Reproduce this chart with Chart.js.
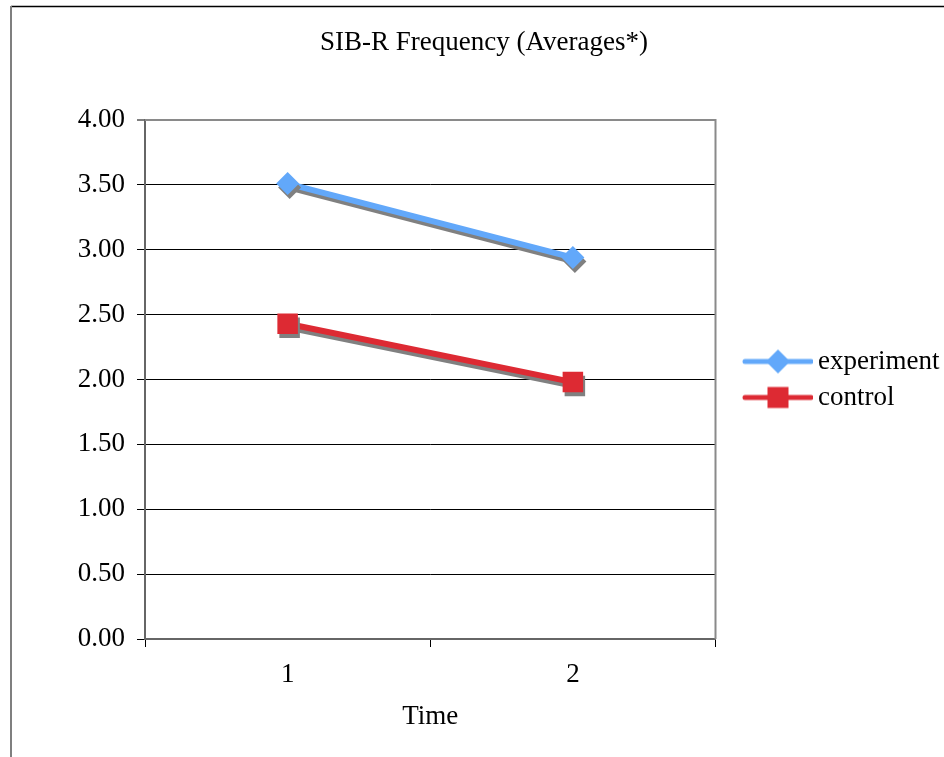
<!DOCTYPE html>
<html>
<head>
<meta charset="utf-8">
<title>SIB-R Frequency</title>
<script src="https://cdn.jsdelivr.net/npm/chart.js@4/dist/chart.umd.min.js"></script>
<style>
  html, body { margin: 0; padding: 0; background: #fff; }
  canvas { display: block; }
</style>
</head>
<body>
<canvas id="sibChart" width="944" height="757"></canvas>
<script>
// averages per time point
var timeLabels = ["1", "2"];
var experimentValues = [3.51, 2.94];
var controlValues = [2.43, 1.98];

var expColor = "#62a8fa";
var ctlColor = "#dd2a33";
var shadowColor = "#808080";

Chart.defaults.font.family = '"Liberation Serif", "Times New Roman", serif';
Chart.defaults.font.size = 27;
Chart.defaults.color = "#000";

// legend icon: a short line with the marker on it
function legendIcon(color, shape) {
    var c = document.createElement("canvas");
    c.width = 97;
    c.height = 28;
    var g = c.getContext("2d");
    var cy = 14, cx = 62;
    g.strokeStyle = color;
    g.lineWidth = 5;
    g.lineCap = "round";
    g.beginPath();
    g.moveTo(29, cy);
    g.lineTo(95, cy);
    g.stroke();
    g.fillStyle = color;
    if (shape == "diamond") {
        g.beginPath();
        g.moveTo(cx, cy - 12);
        g.lineTo(cx + 12, cy);
        g.lineTo(cx, cy + 12);
        g.lineTo(cx - 12, cy);
        g.closePath();
        g.fill();
    } else {
        g.fillRect(cx - 10.5, cy - 10.5, 21, 21);
    }
    return c;
}
var icons = [legendIcon(expColor, "diamond"), legendIcon(ctlColor, "square")];

// outer frame of the chart
var framePlugin = {
    id: "frame",
    beforeDraw: function (chart) {
        var ctx = chart.ctx;
        ctx.save();
        ctx.fillStyle = "#fff";
        ctx.fillRect(0, 0, chart.width, chart.height);
        ctx.strokeStyle = "#000";
        ctx.lineWidth = 1.5;
        ctx.beginPath();
        ctx.moveTo(11, 6.5);
        ctx.lineTo(chart.width, 6.5);
        ctx.stroke();
        ctx.strokeStyle = "#7f7f7f";
        ctx.lineWidth = 2;
        ctx.beginPath();
        ctx.moveTo(11, 6);
        ctx.lineTo(11, chart.height);
        ctx.stroke();
        ctx.restore();
    },
    beforeDatasetsDraw: function (chart) {
        // top and right edge of the plot area
        var a = chart.chartArea;
        var ctx = chart.ctx;
        ctx.save();
        ctx.strokeStyle = "#8a8a8a";
        ctx.lineWidth = 2;
        ctx.beginPath();
        ctx.moveTo(a.left, a.top);
        ctx.lineTo(a.right, a.top);
        ctx.lineTo(a.right, a.bottom);
        ctx.stroke();
        ctx.restore();
    }
};

// drop shadow under the lines and markers
var shadowPlugin = {
    id: "lineShadow",
    beforeDatasetDraw: function (chart) {
        var ctx = chart.ctx;
        ctx.save();
        ctx.shadowColor = shadowColor;
        ctx.shadowBlur = 0;
        ctx.shadowOffsetX = 2;
        ctx.shadowOffsetY = 4;
    },
    afterDatasetDraw: function (chart) {
        chart.ctx.restore();
    }
};

var myChart = new Chart(document.getElementById("sibChart"), {
    type: "line",
    data: {
        labels: timeLabels,
        datasets: [
            {
                label: "experiment",
                data: experimentValues,
                borderColor: expColor,
                backgroundColor: expColor,
                borderWidth: 6,
                pointStyle: "rectRot",
                pointRadius: 11.5,
                pointBorderWidth: 0,
                pointBackgroundColor: expColor
            },
            {
                label: "control",
                data: controlValues,
                borderColor: ctlColor,
                backgroundColor: ctlColor,
                borderWidth: 6,
                pointStyle: "rect",
                pointRadius: 14.5,
                pointBorderWidth: 0,
                pointBackgroundColor: ctlColor
            }
        ]
    },
    options: {
        responsive: false,
        animation: false,
        layout: { padding: { left: 21, right: -3, top: 0, bottom: 0 } },
        plugins: {
            title: {
                display: true,
                text: "SIB-R Frequency (Averages*)",
                font: { size: 27, weight: "normal" },
                color: "#000",
                padding: { top: 27, bottom: 60.6 }
            },
            legend: {
                display: true,
                position: "right",
                fullSize: false,
                labels: {
                    usePointStyle: true,
                    pointStyleWidth: 80,
                    padding: 9,
                    color: "#000",
                    font: { size: 27 },
                    generateLabels: function (chart) {
                        var items = Chart.defaults.plugins.legend.labels.generateLabels(chart);
                        items.forEach(function (it, i) { it.pointStyle = icons[i]; });
                        return items;
                    }
                }
            },
            tooltip: { enabled: false }
        },
        scales: {
            x: {
                type: "category",
                offset: true,
                grid: {
                    offset: true,
                    drawOnChartArea: false,
                    drawTicks: true,
                    tickLength: 8,
                    tickColor: "#000",
                    tickWidth: 1
                },
                border: { color: "#666", width: 2 },
                ticks: { padding: 12, color: "#000" },
                title: {
                    display: true,
                    text: "Time",
                    color: "#000",
                    padding: { top: 4, bottom: 24 }
                },
                afterFit: function (scale) { scale.height = 118; }
            },
            y: {
                min: 0,
                max: 4,
                grid: {
                    color: function (c) { return c.tick && c.tick.value === 4 ? "#8a8a8a" : "#000"; },
                    lineWidth: function (c) { return c.tick && c.tick.value === 4 ? 2 : 1; },
                    tickLength: 8,
                    tickColor: "#000",
                    tickWidth: 1
                },
                border: { color: "#666", width: 2 },
                ticks: {
                    stepSize: 0.5,
                    padding: 12,
                    color: "#000",
                    callback: function (v) { return Number(v).toFixed(2); }
                },
                afterFit: function (scale) { scale.width = 124; }
            }
        }
    },
    plugins: [framePlugin, shadowPlugin]
});
</script>
</body>
</html>
